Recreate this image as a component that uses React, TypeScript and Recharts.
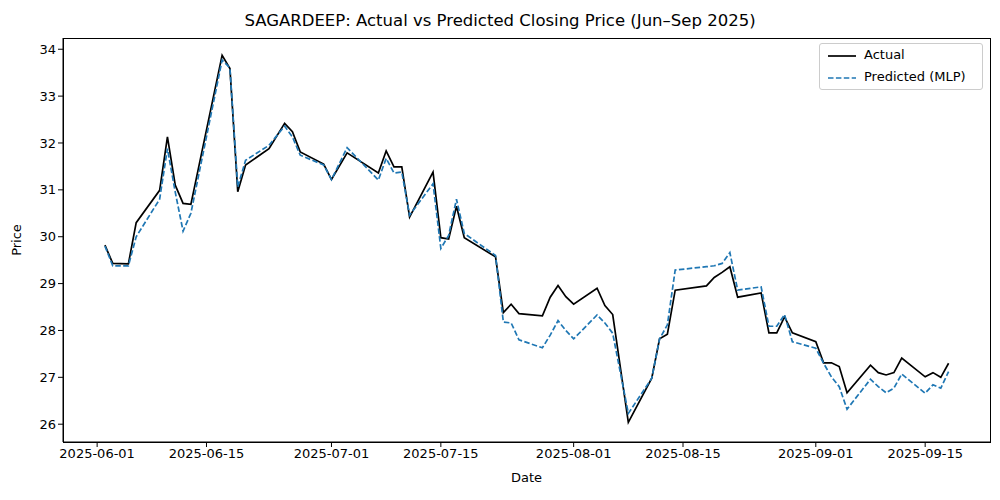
import React from "react";
import {
  LineChart,
  Line,
  XAxis,
  YAxis,
  Label,
} from "recharts";

const dates = [
  "2025-06-02", "2025-06-03", "2025-06-05", "2025-06-06", "2025-06-09", "2025-06-10",
  "2025-06-11", "2025-06-12", "2025-06-13", "2025-06-17", "2025-06-18", "2025-06-19",
  "2025-06-20", "2025-06-23", "2025-06-25", "2025-06-26", "2025-06-27", "2025-06-30",
  "2025-07-01", "2025-07-03", "2025-07-07", "2025-07-08", "2025-07-09", "2025-07-10",
  "2025-07-11", "2025-07-14", "2025-07-15", "2025-07-16", "2025-07-17", "2025-07-18",
  "2025-07-22", "2025-07-23", "2025-07-24", "2025-07-25", "2025-07-28", "2025-07-29",
  "2025-07-30", "2025-07-31", "2025-08-01", "2025-08-04", "2025-08-05", "2025-08-06",
  "2025-08-08", "2025-08-11", "2025-08-12", "2025-08-13", "2025-08-14", "2025-08-18",
  "2025-08-19", "2025-08-20", "2025-08-21", "2025-08-22", "2025-08-25", "2025-08-26",
  "2025-08-27", "2025-08-28", "2025-08-29", "2025-09-01", "2025-09-02", "2025-09-03",
  "2025-09-04", "2025-09-05", "2025-09-08", "2025-09-09", "2025-09-10", "2025-09-11",
  "2025-09-12", "2025-09-15", "2025-09-16", "2025-09-17", "2025-09-18",
];

const actual = [
  29.82, 29.43, 29.42, 30.3, 30.99, 32.13, 31.1, 30.71, 30.69, 33.87, 33.59, 30.96,
  31.53, 31.88, 32.42, 32.24, 31.81, 31.55, 31.22, 31.79, 31.36, 31.83, 31.49, 31.49,
  30.42, 31.38, 29.98, 29.95, 30.65, 29.98, 29.57, 28.38, 28.56, 28.36, 28.31, 28.71,
  28.96, 28.72, 28.56, 28.9, 28.53, 28.34, 26.04, 26.98, 27.82, 27.92, 28.86, 28.95,
  29.13, 29.24, 29.36, 28.71, 28.8, 27.95, 27.95, 28.29, 27.95, 27.76, 27.31, 27.31,
  27.23, 26.67, 27.26, 27.1, 27.05, 27.1, 27.41, 27.01, 27.1, 27.0, 27.3,
];

const predicted = [
  29.8, 29.38, 29.38, 30.0, 30.8, 31.88, 30.95, 30.12, 30.5, 33.77, 33.6, 31.06,
  31.63, 31.95, 32.36, 32.13, 31.74, 31.53, 31.22, 31.9, 31.21, 31.67, 31.36, 31.38,
  30.46, 31.13, 29.75, 30.03, 30.8, 30.07, 29.6, 28.18, 28.16, 27.8, 27.63, 27.9,
  28.21, 28.0, 27.82, 28.33, 28.16, 27.94, 26.23, 26.98, 27.82, 28.12, 29.29, 29.36,
  29.38, 29.43, 29.66, 28.86, 28.93, 28.09, 28.09, 28.34, 27.76, 27.62, 27.3, 27.01,
  26.8, 26.32, 26.96, 26.8, 26.67, 26.77, 27.07, 26.66, 26.84, 26.77, 27.12,
];

const tickDates = [
  "2025-06-01", "2025-06-15", "2025-07-01", "2025-07-15",
  "2025-08-01", "2025-08-15", "2025-09-01", "2025-09-15",
];

const priceTicks = [26, 27, 28, 29, 30, 31, 32, 33, 34];

const DAY = 86400000;
const ts = (s: string) => Date.parse(s + "T00:00:00Z");
const data = dates.map((d, i) => ({ t: ts(d), actual: actual[i], predicted: predicted[i] }));
const fmt = (v: number) => new Date(v).toISOString().slice(0, 10);

const font = "DejaVu Sans, sans-serif";
const tickStyle = { fill: "#000", fontSize: 13, fontFamily: font };

export default function App() {
  return (
    <div style={{ position: "absolute", left: 0, top: 0, width: 1000, height: 500, background: "#fff", fontFamily: font }}>
      <div style={{ position: "absolute", top: 11, width: 1000, textAlign: "center", fontSize: 16.5, color: "#000" }}>
        SAGARDEEP: Actual vs Predicted Closing Price (Jun–Sep 2025)
      </div>
      <LineChart width={1000} height={500} data={data} margin={{ top: 38, right: 10, left: 0, bottom: 0 }}>
        <XAxis
          dataKey="t"
          type="number"
          scale="time"
          domain={[ts("2025-06-01") - 4.37 * DAY, ts("2025-06-01") + 114.3 * DAY]}
          ticks={tickDates.map(ts)}
          tickFormatter={fmt}
          height={58}
          stroke="#000"
          tick={tickStyle}
          tickSize={5}
          allowDataOverflow
        >
          <Label value="Date" position="insideBottom" offset={18} style={{ fill: "#000", fontSize: 13, fontFamily: font }} />
        </XAxis>
        <YAxis
          domain={[25.62, 34.24]}
          ticks={priceTicks}
          width={63}
          stroke="#000"
          tick={tickStyle}
          tickSize={5}
          allowDataOverflow
        >
          <Label value="Price" angle={-90} position="insideLeft" offset={16} style={{ fill: "#000", fontSize: 13, fontFamily: font, textAnchor: "middle" }} />
        </YAxis>
        <Line dataKey="actual" stroke="#000" strokeWidth={1.7} dot={false} isAnimationActive={false} />
        <Line dataKey="predicted" stroke="#1f77b4" strokeWidth={1.7} strokeDasharray="5.5 2.4" dot={false} isAnimationActive={false} />
      </LineChart>
      <div style={{ position: "absolute", left: 63, top: 38, width: 926, height: 403, border: "1px solid #000", pointerEvents: "none" }} />
      <div style={{ position: "absolute", left: 819, top: 43, width: 162, height: 45, border: "1px solid #ccc", borderRadius: 3, background: "#fff", fontSize: 13, color: "#000" }}>
        <svg width={30} height={45} style={{ position: "absolute", left: 8, top: 0 }}>
          <line x1={0} y1={12} x2={28} y2={12} stroke="#000" strokeWidth={1.7} />
          <line x1={0} y1={34} x2={28} y2={34} stroke="#1f77b4" strokeWidth={1.7} strokeDasharray="5.5 2.4" />
        </svg>
        <div style={{ position: "absolute", left: 44, top: 3 }}>Actual</div>
        <div style={{ position: "absolute", left: 44, top: 25 }}>Predicted (MLP)</div>
      </div>
    </div>
  );
}
